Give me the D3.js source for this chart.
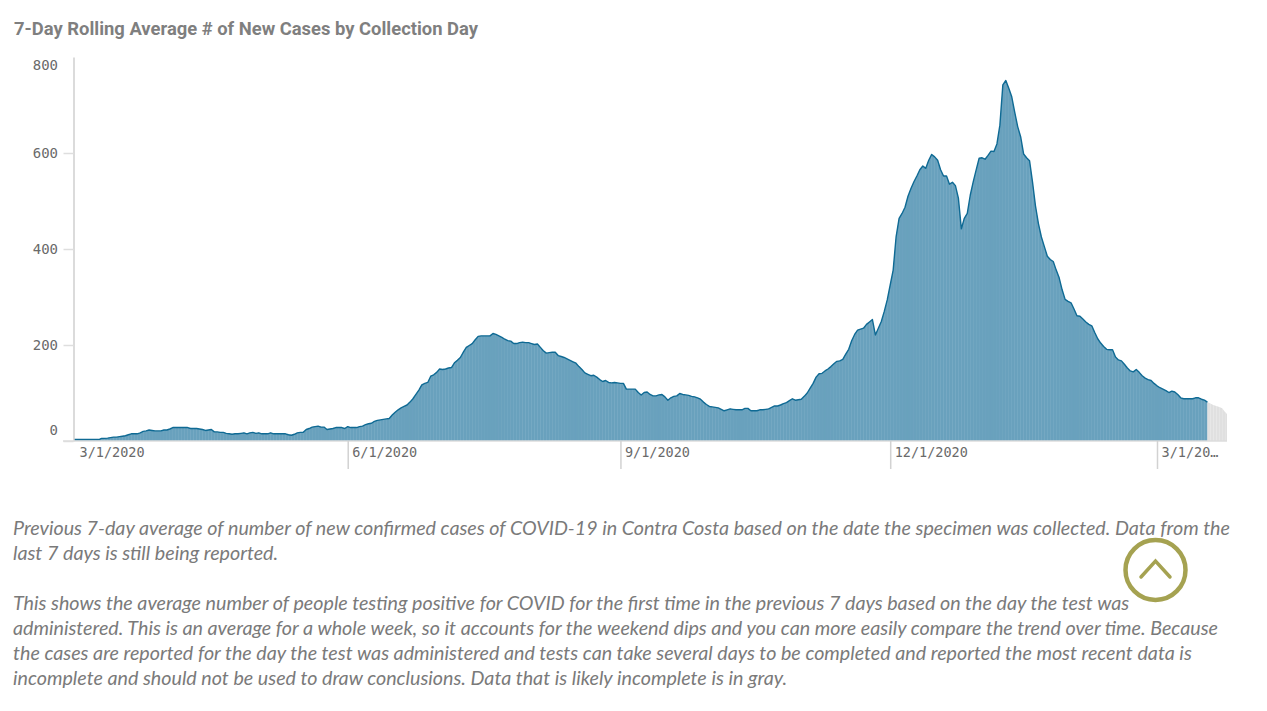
<!DOCTYPE html>
<html>
<head>
<meta charset="utf-8">
<script src="https://cdn.jsdelivr.net/npm/d3@7"></script>
<style>
html, body { margin: 0; padding: 0; background: #fff; overflow: hidden; }
svg { display: block; }
</style>
</head>
<body>
<script>
var title = "7-Day Rolling Average # of New Cases by Collection Day";

var firstDay = new Date(Date.UTC(2020, 1, 29));

// one value per day, first row starts 2/29/2020
var reportedCases = [3,
    3,3,3,3,3,3,3,3,3,5.5,
    5.5,6,7,8,8,9,10,11,13,15,
    15,15,17,20,21,23,22,21,21,21,
    23,23,25,28,28,28,28,28,28,26,
    26,26,25,24,22,23,24,19,19,18,
    18,16,15,14,15,15,16,17,15,17,
    18,16,17,15,15,15,17,15,15,15,
    15,15,13,12,14,17,18,18,24,26,
    29,30,31,29,29,24,25,26,28,28,
    28,26,30,28,28,28,30,31,34,36,
    37,41,43,44,45,46,47,54,60,65,
    69,72,75,81,88,97,106,117,120,122,
    135,138,143,150,149,150,152,153,163,168,
    174,185,195,199,203,211,218,219,219,219,
    219,224,222,219,216,212,209,208,203,203,
    205,206,205,205,203,201,202,195,188,183,
    184,185,185,178,176,174,171,168,165,162,
    155,149,142,139,136,137,133,128,124,126,
    122,121,122,121,120,120,108,108,108,108,
    101,96,101,102,97,94,94,96,97,92,
    85,90,93,94,99,97,96,95,93,92,
    90,87,81,76,72,71,70,69,66,63,
    65,67,66,65,65,65,68,68,63,63,
    63,65,65,66,67,70,73,73,75,78,
    80,84,88,85,86,87,93,100,110,120,
    133,140,141,146,150,155,161,166,167,170,
    181,191,209,222,231,233,235,243,248,253,
    221,235,249,270,294,325,356,426,464,474,
    487,510,526,540,552,565,573,568,585,597,
    592,585,565,552,552,535,539,532,506,442,
    464,474,512,540,565,589,590,587,595,604,
    603,619,658,742,751,735,717,685,655,634,
    598,590,584,540,490,453,425,405,385,378,
    374,356,340,315,295,291,288,275,261,260,
    254,248,243,240,226,213,204,197,191,190,
    190,175,169,167,160,152,146,144,149,143,
    136,131,128,126,120,115,111,108,105,101,
    104,102,97,90,88,88,88,88,90,90,
    87,85,81];

// last week, still being reported (gray), starts on the last blue day
var incompleteCases = [81,78,75,73,71,68,60,54];

var yTicks = [0, 200, 400, 600, 800];
var xTicks = [new Date(Date.UTC(2020, 2, 1)), new Date(Date.UTC(2020, 5, 1)), new Date(Date.UTC(2020, 8, 1)), new Date(Date.UTC(2020, 11, 1)), new Date(Date.UTC(2021, 2, 1))];
var xTickLabels = ["3/1/2020", "6/1/2020", "9/1/2020", "12/1/2020", "3/1/20\u2026"];

var noteLines = [
    "Previous 7-day average of number of new confirmed cases of COVID-19 in Contra Costa based on the date the specimen was collected. Data from the",
    "last 7 days is still being reported.",
    "",
    "This shows the average number of people testing positive for COVID for the first time in the previous 7 days based on the day the test was",
    "administered. This is an average for a whole week, so it accounts for the weekend dips and you can more easily compare the trend over time. Because",
    "the cases are reported for the day the test was administered and tests can take several days to be completed and reported the most recent data is",
    "incomplete and should not be used to draw conclusions. Data that is likely incomplete is in gray."
];

var svg = d3.select("body").append("svg").attr("width", 1267).attr("height", 711);

svg.append("text").attr("x", 14).attr("y", 34.5)
    .attr("font-family", "Roboto").attr("font-weight", 700).attr("font-size", 18.4)
    .attr("fill", "#7f7f7f").text(title);

var x = d3.scaleUtc()
    .domain([new Date(Date.UTC(2020, 2, 1)), new Date(Date.UTC(2021, 2, 1))])
    .range([75, 1157]);
var y = d3.scaleLinear().domain([0, 800]).range([441, 57]);

var points = reportedCases.map(function (d, i) { return { date: d3.utcDay.offset(firstDay, i), value: d }; });
var grayPoints = incompleteCases.map(function (d, i) { return { date: d3.utcDay.offset(firstDay, reportedCases.length - 1 + i), value: d }; });

svg.append("clipPath").attr("id", "plot").append("rect")
    .attr("x", 74).attr("y", 40).attr("width", 1153).attr("height", 401);

var area = d3.area()
    .x(function (d) { return x(d.date); })
    .y0(y(0))
    .y1(function (d) { return y(d.value); });

var plot = svg.append("g").attr("clip-path", "url(#plot)");

// lighter area under the slices keeps the seams faint
plot.append("path").datum(points).attr("fill", "#9cc2d6").attr("d", area);

// a slice per day so the seams between days show like in the original
function drawSlices(data, color) {
    plot.append("g").selectAll("path").data(d3.pairs(data)).enter().append("path")
        .attr("d", function (p) { return area(p); })
        .attr("fill", color);
}
drawSlices(points, "#69a1bd");
drawSlices(grayPoints, "#e0e0e0");

plot.append("path").datum(points)
    .attr("fill", "none").attr("stroke", "#0f6a94").attr("stroke-width", 1.4)
    .attr("stroke-linejoin", "round")
    .attr("d", d3.line().x(function (d) { return x(d.date); }).y(function (d) { return y(d.value); }));

// y axis
var yAxis = svg.append("g").attr("transform", "translate(73.5,0)")
    .call(d3.axisLeft(y).tickValues(yTicks).tickSizeInner(10).tickSizeOuter(0).tickPadding(5).tickFormat(d3.format("d")));
yAxis.select(".domain").attr("stroke", "#cfcfcf").attr("stroke-width", 1.5);
yAxis.selectAll(".tick line").attr("stroke", "#dedede").attr("stroke-width", 1.5);
yAxis.selectAll(".tick text")
    .attr("font-family", "DejaVu Sans Mono").attr("font-size", 14).attr("fill", "#6a6a6a")
    .attr("x", -15.5)
    .attr("dy", function (d) { return d == 800 ? "0.9em" : d == 0 ? "-0.45em" : "0.32em"; });
yAxis.selectAll(".tick").filter(function (d) { return d == 800; }).select("line").remove();

// x axis
var xAxis = svg.append("g").attr("transform", "translate(0,441)")
    .call(d3.axisBottom(x).tickValues(xTicks).tickSize(28).tickFormat(function (d, i) { return xTickLabels[i]; }));
xAxis.select(".domain").remove();
xAxis.insert("line", ":first-child").attr("x1", 63).attr("x2", 1227).attr("stroke", "#dcdcdc").attr("stroke-width", 1.5);
xAxis.selectAll(".tick line").attr("stroke", "#d2d2d2").attr("stroke-width", 1.5);
xAxis.selectAll(".tick text")
    .attr("font-family", "DejaVu Sans Mono").attr("font-size", 13.5).attr("fill", "#6a6a6a")
    .attr("text-anchor", "start").attr("x", 4).attr("y", 6).attr("dy", "0.71em");
// the first tick has only its label
xAxis.selectAll(".tick").filter(function (d, i) { return i == 0; }).select("line").remove();

// notes under the chart
svg.append("g").selectAll("text").data(noteLines).enter().append("text")
    .attr("x", 13)
    .attr("y", function (d, i) { return 535 + i * 25; })
    .attr("font-family", "Lato").attr("font-style", "italic").attr("font-size", 19.7)
    .attr("fill", "#7a7a7a")
    .text(function (d) { return d; });

// back-to-top button
var button = svg.append("g").attr("fill", "none").attr("stroke", "#a5a251");
button.append("circle").attr("cx", 1155.5).attr("cy", 570).attr("r", 30).attr("stroke-width", 4.5);
button.append("path").attr("d", "M1141,577L1155.5,561L1170,577").attr("stroke-width", 3.5).attr("stroke-linecap", "round");
</script>
</body>
</html>
